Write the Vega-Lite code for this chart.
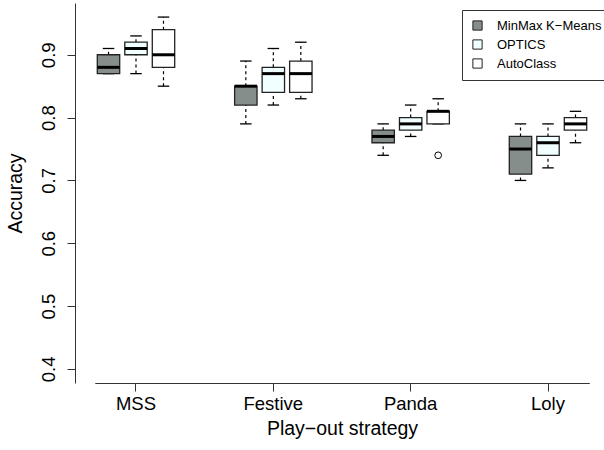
{
  "$schema": "https://vega.github.io/schema/vega-lite/v6.json",
  "autosize": {"type": "none"},
  "padding": {"left": 75, "top": 3, "right": 0, "bottom": 67},
  "width": 529,
  "height": 380,
  "background": "white",
  "config": {
    "view": {"stroke": null},
    "font": "Liberation Sans"
  },
  "datasets": {
    "boxes": [
      {"strategy": "MSS", "method": "MinMax K−Means", "min": 0.87, "q1": 0.87, "median": 0.88, "q3": 0.90, "max": 0.91},
      {"strategy": "MSS", "method": "OPTICS", "min": 0.87, "q1": 0.90, "median": 0.91, "q3": 0.92, "max": 0.93},
      {"strategy": "MSS", "method": "AutoClass", "min": 0.85, "q1": 0.88, "median": 0.90, "q3": 0.94, "max": 0.96},
      {"strategy": "Festive", "method": "MinMax K−Means", "min": 0.79, "q1": 0.82, "median": 0.85, "q3": 0.85, "max": 0.89},
      {"strategy": "Festive", "method": "OPTICS", "min": 0.82, "q1": 0.84, "median": 0.87, "q3": 0.88, "max": 0.91},
      {"strategy": "Festive", "method": "AutoClass", "min": 0.83, "q1": 0.84, "median": 0.87, "q3": 0.89, "max": 0.92},
      {"strategy": "Panda", "method": "MinMax K−Means", "min": 0.74, "q1": 0.76, "median": 0.77, "q3": 0.78, "max": 0.79},
      {"strategy": "Panda", "method": "OPTICS", "min": 0.77, "q1": 0.78, "median": 0.79, "q3": 0.80, "max": 0.82},
      {"strategy": "Panda", "method": "AutoClass", "min": 0.79, "q1": 0.79, "median": 0.81, "q3": 0.81, "max": 0.83},
      {"strategy": "Loly", "method": "MinMax K−Means", "min": 0.70, "q1": 0.71, "median": 0.75, "q3": 0.77, "max": 0.79},
      {"strategy": "Loly", "method": "OPTICS", "min": 0.72, "q1": 0.74, "median": 0.76, "q3": 0.77, "max": 0.79},
      {"strategy": "Loly", "method": "AutoClass", "min": 0.76, "q1": 0.78, "median": 0.79, "q3": 0.80, "max": 0.81}
    ],
    "outliers": [
      {"strategy": "Panda", "method": "AutoClass", "value": 0.74}
    ]
  },
  "data": {"name": "boxes"},
  "encoding": {
    "x": {
      "field": "strategy",
      "type": "nominal",
      "scale": {
        "domain": ["MSS", "Festive", "Panda", "Loly"],
        "range": [19.75, 514.25],
        "paddingInner": 0.3993,
        "paddingOuter": 0
      },
      "axis": {
        "title": "Play−out strategy",
        "labelAngle": 0,
        "labelFontSize": 18.5,
        "titleFontSize": 19.5,
        "titleFontWeight": "normal",
        "labelColor": "black",
        "titleColor": "black",
        "domainColor": "#333",
        "tickColor": "#333",
        "tickSize": 8,
        "labelPadding": 3,
        "titlePadding": 7
      }
    },
    "xOffset": {
      "field": "method",
      "type": "nominal",
      "scale": {
        "domain": ["MinMax K−Means", "OPTICS", "AutoClass"],
        "paddingInner": 0.185,
        "paddingOuter": 0.0925
      }
    }
  },
  "layer": [
    {
      "mark": {"type": "rule", "strokeDash": [3, 3], "strokeWidth": 1.2, "color": "black", "opacity": 1},
      "encoding": {
        "y": {"field": "q3", "type": "quantitative"},
        "y2": {"field": "max"}
      }
    },
    {
      "mark": {"type": "rule", "strokeDash": [3, 3], "strokeWidth": 1.2, "color": "black", "opacity": 1},
      "encoding": {
        "y": {"field": "min", "type": "quantitative"},
        "y2": {"field": "q1"}
      }
    },
    {
      "mark": {"type": "tick", "size": 11.5, "thickness": 1.3, "color": "black", "opacity": 1},
      "encoding": {"y": {"field": "max", "type": "quantitative"}}
    },
    {
      "mark": {"type": "tick", "size": 11.5, "thickness": 1.3, "color": "black", "opacity": 1},
      "encoding": {"y": {"field": "min", "type": "quantitative"}}
    },
    {
      "mark": {"type": "bar", "stroke": "#222", "strokeWidth": 1.3, "opacity": 1},
      "encoding": {
        "y": {
          "field": "q1",
          "type": "quantitative",
          "scale": {"domain": [0.3776, 0.9824], "nice": false, "zero": false},
          "axis": {
            "title": "Accuracy",
            "values": [0.4, 0.5, 0.6, 0.7, 0.8, 0.9],
            "format": ".1f",
            "grid": false,
            "labelAngle": 270,
            "labelAlign": "center",
            "labelBaseline": "bottom",
            "labelFontSize": 18.5,
            "titleFontSize": 19.5,
            "titleFontWeight": "normal",
            "labelColor": "black",
            "titleColor": "black",
            "domainColor": "#333",
            "tickColor": "#333",
            "tickSize": 8,
            "labelPadding": 9,
            "titlePadding": 14
          }
        },
        "y2": {"field": "q3"},
        "fill": {
          "field": "method",
          "type": "nominal",
          "scale": {
            "domain": ["MinMax K−Means", "OPTICS", "AutoClass"],
            "range": ["#868e8c", "#f0ffff", "#ffffff"]
          },
          "legend": {
            "title": null,
            "orient": "none",
            "legendX": 387,
            "legendY": 7,
            "strokeColor": "#333",
            "fillColor": "white",
            "padding": 9,
            "symbolType": "square",
            "symbolSize": 85,
            "symbolStrokeColor": "#222",
            "symbolStrokeWidth": 1,
            "symbolOpacity": 1,
            "labelFontSize": 13,
            "labelColor": "black",
            "labelOffset": 13,
            "rowPadding": 4
          }
        }
      }
    },
    {
      "mark": {"type": "tick", "size": 22.4, "thickness": 3, "color": "black", "opacity": 1},
      "encoding": {"y": {"field": "median", "type": "quantitative"}}
    },
    {
      "data": {"name": "outliers"},
      "mark": {"type": "point", "shape": "circle", "filled": false, "size": 45, "stroke": "black", "strokeWidth": 1, "opacity": 1},
      "encoding": {"y": {"field": "value", "type": "quantitative"}}
    }
  ]
}
